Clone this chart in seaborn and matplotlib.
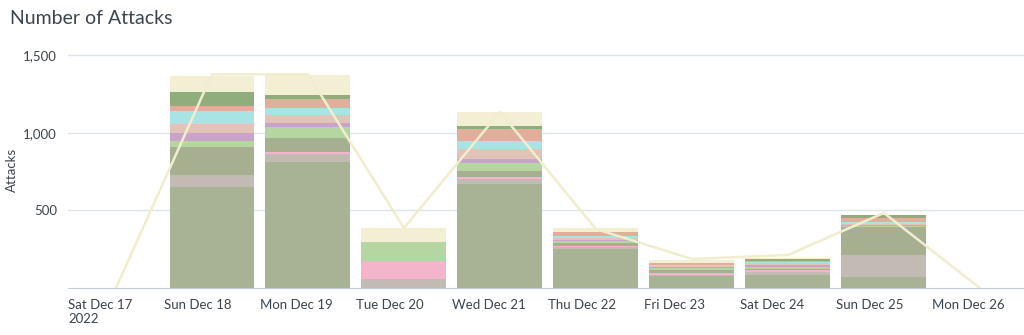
import numpy as np
import pandas as pd
import matplotlib
matplotlib.use("Agg")
import matplotlib.pyplot as plt
import seaborn as sns

# ---- data ----
day_labels = ["Sat Dec 17\n2022", "Sun Dec 18", "Mon Dec 19", "Tue Dec 20", "Wed Dec 21",
              "Thu Dec 22", "Fri Dec 23", "Sat Dec 24", "Sun Dec 25", "Mon Dec 26"]
series_names = ["Type A", "Type B", "Type C", "Type D", "Type E", "Type F",
                "Type G", "Type H", "Type I", "Type J", "Type K"]
type_a = [0, 650, 815, 0, 671, 250, 79, 81, 74, 0]
type_b = [0, 79, 48, 58, 32, 17, 4, 21, 142, 0]
type_c = [0, 0, 17, 116, 11, 3, 13, 11, 0, 0]
type_d = [0, 181, 86, 0, 41, 21, 17, 12, 176, 0]
type_e = [0, 41, 71, 125, 54, 13, 17, 13, 9, 0]
type_f = [0, 48, 26, 0, 22, 3, 6, 13, 3, 0]
type_g = [0, 58, 54, 0, 65, 13, 8, 13, 9, 0]
type_h = [0, 86, 43, 0, 55, 17, 3, 3, 10, 0]
type_i = [0, 32, 60, 0, 74, 21, 13, 8, 26, 0]
type_j = [0, 88, 26, 0, 17, 3, 3, 13, 21, 0]
type_k = [0, 107, 129, 86, 93, 28, 15, 3, 3, 0]
total_line = [0, 1378, 1378, 387, 1135, 380, 187, 213, 484, 0]

series_values = [type_a, type_b, type_c, type_d, type_e, type_f,
                 type_g, type_h, type_i, type_j, type_k]
series_colors = ["#a8b294", "#c1bbb3", "#f4b4cb", "#a6b090", "#b6d6a1", "#c9a3c9",
                 "#e1c3b8", "#a9e4e4", "#e1ae9c", "#8fae7c", "#f3efd5"]

rows = []
for name, vals in zip(series_names, series_values):
    for i, v in enumerate(vals):
        rows.append({"day": i + 0.5, "series": name, "count": v})
df = pd.DataFrame(rows)
line_df = pd.DataFrame({"day": np.arange(len(total_line)) + 0.5, "total": total_line})

# ---- figure ----
sns.set_style("white")
plt.rcParams["font.family"] = ["Lato", "DejaVu Sans"]

fig = plt.figure(figsize=(10.24, 3.35), dpi=100)
ax = fig.add_axes([68 / 1024, 1 - 288 / 335, 1 - 68 / 1024, (288 - 47) / 335])

palette = dict(zip(series_names, series_colors))
sns.histplot(data=df, x="day", weights="count", hue="series",
             hue_order=series_names[::-1], palette=palette,
             binwidth=1, binrange=(0, 10), multiple="stack", shrink=0.885,
             alpha=1, linewidth=0, legend=False, ax=ax)

sns.lineplot(data=line_df, x="day", y="total", color="#f1edcf", linewidth=1.8,
             ax=ax, zorder=5)

ax.set_xlim(0, 9.96)
ax.set_ylim(0, 1554)
ax.set_yticks([500, 1000, 1500])
ax.set_yticklabels(["500", "1,000", "1,500"])
ax.set_xticks(np.arange(10))
ax.set_xticklabels(day_labels, ha="left")
ax.yaxis.grid(True, color="#dfe4ea", linewidth=1)
ax.set_axisbelow(True)
for s in ["top", "right", "left"]:
    ax.spines[s].set_visible(False)
ax.spines["bottom"].set_color("#c5ccd4")
ax.tick_params(axis="x", length=5, color="#c5ccd4", labelsize=9.5,
               labelcolor="#3c444d", pad=3)
ax.tick_params(axis="y", length=0, labelsize=9.5, labelcolor="#3c444d", pad=8)
ax.set_xlabel("")
ax.set_ylabel("Attacks", fontsize=9.5, color="#3c444d")
ax.yaxis.set_label_coords(-0.052, 0.49)

fig.text(10 / 1024, 1 - 18 / 335, "Number of Attacks", fontsize=14,
         color="#3c444d", va="center", ha="left")

fig.savefig("out.png", dpi=100)
